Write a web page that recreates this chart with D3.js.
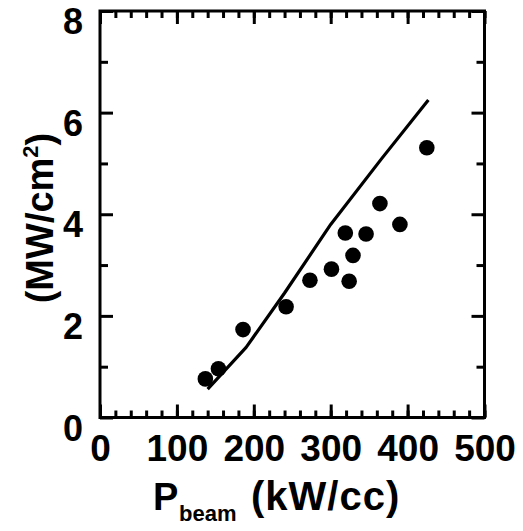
<!DOCTYPE html>
<html>
<head>
<meta charset="utf-8">
<script src="https://cdn.jsdelivr.net/npm/d3@7"></script>
<style>
  html, body { margin: 0; padding: 0; background: #fff; }
  svg { display: block; }
  text { font-family: "Liberation Sans", Arial, sans-serif; font-weight: bold; fill: #000; }
</style>
</head>
<body>
<svg id="chart" width="523" height="531"></svg>
<script>
// ---- data ----
const xTickLabels = [0, 100, 200, 300, 400, 500];
const xMinorTicks = d3.range(0, 501, 20);
const yTickLabels = [0, 2, 4, 6, 8];
const yMinorTicks = [1, 3, 5, 7];

// measured points (P_beam in kW/cc, heat flux in MW/cm^2)
const pBeam    = [137, 154, 186, 242, 273, 301, 324, 329, 319, 346, 364, 390, 425];
const heatFlux = [0.76, 0.96, 1.73, 2.18, 2.70, 2.92, 2.68, 3.19, 3.63, 3.61, 4.21, 3.80, 5.31];

// model curve
const modelP    = [140, 190, 240, 300, 366, 427];
const modelFlux = [0.56, 1.38, 2.45, 3.80, 5.09, 6.25];

// ---- layout ----
const mLeft = 100, mRight = 484.5, mTop = 11, mBottom = 417.5;
const svg = d3.select("#chart");

const x = d3.scaleLinear().domain([0, 500]).range([mLeft, mRight]);
const y = d3.scaleLinear().domain([0, 8]).range([mBottom, mTop]);

function styleAxis(g) {
  g.select(".domain").remove();
  g.selectAll(".tick line").attr("stroke", "#000").attr("stroke-width", 3);
}

// minor ticks (all four sides, inward)
svg.append("g").attr("transform", `translate(0,${mBottom})`)
  .call(d3.axisBottom(x).tickValues(xMinorTicks).tickSize(-7).tickFormat(""))
  .call(styleAxis);
svg.append("g").attr("transform", `translate(0,${mTop})`)
  .call(d3.axisTop(x).tickValues(xMinorTicks).tickSize(-7).tickFormat(""))
  .call(styleAxis);
svg.append("g").attr("transform", `translate(${mLeft},0)`)
  .call(d3.axisLeft(y).tickValues(yMinorTicks).tickSize(-8).tickFormat(""))
  .call(styleAxis);
svg.append("g").attr("transform", `translate(${mRight},0)`)
  .call(d3.axisRight(y).tickValues(yMinorTicks).tickSize(-8).tickFormat(""))
  .call(styleAxis);

// major ticks
const xb = svg.append("g").attr("transform", `translate(0,${mBottom})`)
  .call(d3.axisBottom(x).tickValues(xTickLabels).tickSize(-13).tickPadding(17).tickFormat(d3.format("d")))
  .call(styleAxis);
xb.selectAll("text").attr("font-size", 37).attr("font-family", "Liberation Sans, Arial, sans-serif").attr("font-weight", "bold").attr("fill", "#000");

svg.append("g").attr("transform", `translate(0,${mTop})`)
  .call(d3.axisTop(x).tickValues(xTickLabels).tickSize(-13).tickFormat(""))
  .call(styleAxis);

const yl = svg.append("g").attr("transform", `translate(${mLeft},0)`)
  .call(d3.axisLeft(y).tickValues(yTickLabels).tickSize(-13).tickPadding(17).tickFormat(d3.format("d")))
  .call(styleAxis);
yl.selectAll("text").attr("font-size", 36).attr("dy", "0.63em").attr("font-family", "Liberation Sans, Arial, sans-serif").attr("font-weight", "bold").attr("fill", "#000");

svg.append("g").attr("transform", `translate(${mRight},0)`)
  .call(d3.axisRight(y).tickValues(yTickLabels).tickSize(-13).tickFormat(""))
  .call(styleAxis);

// frame
svg.append("rect")
  .attr("x", mLeft).attr("y", mTop)
  .attr("width", mRight - mLeft).attr("height", mBottom - mTop)
  .attr("fill", "none").attr("stroke", "#000").attr("stroke-width", 3);

// model line
const line = d3.line().x((d, i) => x(modelP[i])).y((d, i) => y(modelFlux[i]));
svg.append("path")
  .datum(modelP)
  .attr("d", line)
  .attr("fill", "none").attr("stroke", "#000").attr("stroke-width", 3.2)
  .attr("stroke-linejoin", "round");

// data points
svg.append("g").selectAll("circle")
  .data(pBeam)
  .join("circle")
  .attr("cx", (d) => x(d))
  .attr("cy", (d, i) => y(heatFlux[i]))
  .attr("r", 7.8)
  .attr("fill", "#000");

// x-axis title
svg.append("text").attr("x", 153).attr("y", 510).attr("font-size", 38).text("P");
svg.append("text").attr("x", 179).attr("y", 521).attr("font-size", 22).text("beam");
svg.append("text").attr("x", 251).attr("y", 510).attr("font-size", 40)
  .attr("letter-spacing", 1).text("(kW/cc)");

// y-axis title
const yt = svg.append("text")
  .attr("transform", "translate(53,218) rotate(-90)")
  .attr("text-anchor", "middle")
  .attr("font-size", 38);
yt.append("tspan").text("(MW/cm");
yt.append("tspan").attr("font-size", 22).attr("dy", -15).text("2");
yt.append("tspan").attr("dy", 15).text(")");
</script>
</body>
</html>
